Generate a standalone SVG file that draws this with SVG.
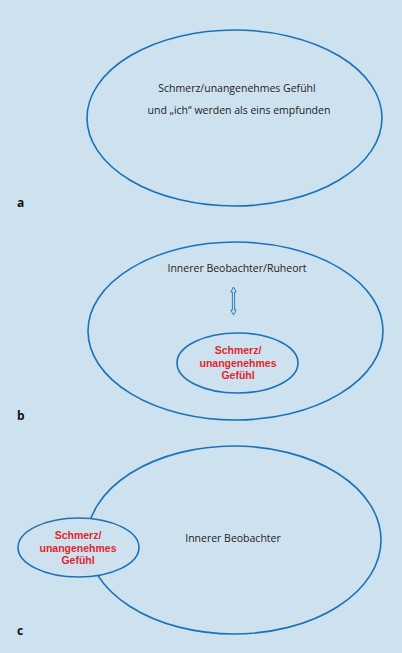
<svg xmlns="http://www.w3.org/2000/svg" width="402" height="653" viewBox="0 0 402 653">
<style>
.bg{fill:#cee1ee}
.ell{fill:none;stroke:#1a73b8;stroke-width:1.6}
.ellf{fill:#cee1ee;stroke:#1a73b8;stroke-width:1.6}
.t{font-family:"Open Sans","Liberation Sans",sans-serif;font-size:10.5px;fill:#222;text-anchor:middle}
.r{font-family:"Liberation Sans",Arial,sans-serif;font-size:10.5px;font-weight:bold;fill:#e1262f;text-anchor:middle}
.lab{font-family:"Open Sans","Liberation Sans",sans-serif;font-size:12px;font-weight:bold;fill:#111}
</style>
<rect class="bg" x="0" y="0" width="402" height="653"/>
<g id="a">
<ellipse class="ell" cx="234.5" cy="118" rx="147.5" ry="88"/>
<text class="t" x="237" y="92">Schmerz/unangenehmes Gefühl</text>
<text class="t" x="239" y="114">und „ich“ werden als eins empfunden</text>
<text class="lab" x="17" y="207">a</text>
</g>
<g id="b">
<ellipse class="ell" cx="235.5" cy="331" rx="147.5" ry="89"/>
<text class="t" x="237" y="272">Innerer Beobachter/Ruheort</text>
<text class="lab" x="17" y="420">b</text>
</g>
<g id="b-inner">
<ellipse class="ell" cx="237.5" cy="363" rx="60.5" ry="30"/>
<text class="r" x="238" y="354">Schmerz/</text>
<text class="r" x="238" y="366.5">unangenehmes</text>
<text class="r" x="238" y="379">Gefühl</text>
</g>
<g id="connectors">
<polygon points="233.5,287 236.2,292 234.6,292 234.6,310 236.2,310 233.5,315 230.8,310 232.4,310 232.4,292 230.8,292" fill="none" stroke="#1a73b8" stroke-width="0.9" stroke-linejoin="miter"/>
</g>
<g id="c">
<ellipse class="ell" cx="234" cy="540" rx="147" ry="94"/>
<text class="t" x="233" y="542">Innerer Beobachter</text>
<text class="lab" x="17" y="635">c</text>
</g>
<g id="c-small">
<ellipse class="ellf" cx="78.5" cy="547.5" rx="60.5" ry="29.5"/>
<text class="r" x="78" y="539">Schmerz/</text>
<text class="r" x="78" y="551.5">unangenehmes</text>
<text class="r" x="78" y="564">Gefühl</text>
</g>
</svg>
